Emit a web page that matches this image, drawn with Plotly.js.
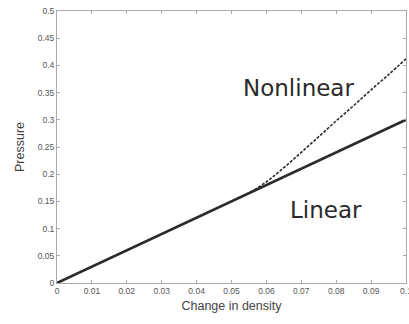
<!DOCTYPE html>
<html><head><meta charset="utf-8">
<script src="https://cdn.plot.ly/plotly-3.0.1.min.js"></script>
<style>html,body{margin:0;padding:0;background:#fff}#c{width:409px;height:324px}</style>
</head><body><div id="c"></div>
<script>
const linearX = [0, 0.1];
const linearY = [0, 0.3];
const nonlinearX = [0.052, 0.055, 0.06, 0.065, 0.07, 0.075, 0.08, 0.085, 0.09, 0.095, 0.1];
const nonlinearY = [0.156, 0.1655, 0.186, 0.212, 0.240, 0.269, 0.298, 0.326, 0.355, 0.383, 0.412];
const xTicks = [0, 0.01, 0.02, 0.03, 0.04, 0.05, 0.06, 0.07, 0.08, 0.09, 0.1];
const xTickText = ['0', '0.01', '0.02', '0.03', '0.04', '0.05', '0.06', '0.07', '0.08', '0.09', '0.1'];
const yTicks = [0, 0.05, 0.1, 0.15, 0.2, 0.25, 0.3, 0.35, 0.4, 0.45, 0.5];
const yTickText = ['0', '0.05', '0.1', '0.15', '0.2', '0.25', '0.3', '0.35', '0.4', '0.45', '0.5'];
const labels = [
  {text: 'Nonlinear', x: 0.0693, y: 0.358},
  {text: 'Linear', x: 0.0772, y: 0.135}
];

const traces = [
  {x: linearX, y: linearY, mode: 'lines', line: {color: '#2b2b2b', width: 2.6}, hoverinfo: 'skip'},
  {x: nonlinearX, y: nonlinearY, mode: 'lines', line: {color: '#2b2b2b', width: 1.6, dash: '3px,1.5px', shape: 'spline'}, hoverinfo: 'skip'}
];
const axisCommon = {
  showline: true, linecolor: '#aaaaaa', linewidth: 1, mirror: 'ticks',
  ticks: 'inside', ticklen: 3, tickcolor: '#aaaaaa', showgrid: false, zeroline: false,
  ticklabeloverflow: 'allow',
  tickfont: {family: 'Liberation Sans, Arial, sans-serif', size: 8.5, color: '#555'}
};
const layout = {
  width: 409, height: 324,
  margin: {l: 57, r: 3, t: 11, b: 41},
  paper_bgcolor: '#fff', plot_bgcolor: '#fff',
  showlegend: false,
  xaxis: Object.assign({}, axisCommon, {
    range: [0, 0.1], tickvals: xTicks, ticktext: xTickText,
    title: {text: 'Change in density', standoff: 6, font: {family: 'Liberation Sans, Arial, sans-serif', size: 12.5, color: '#444'}}
  }),
  yaxis: Object.assign({}, axisCommon, {
    range: [0, 0.5], tickvals: yTicks, ticktext: yTickText,
    title: {text: 'Pressure', standoff: 10, font: {family: 'Liberation Sans, Arial, sans-serif', size: 12.5, color: '#444'}}
  }),
  annotations: labels.map(l => ({
    text: l.text, x: l.x, y: l.y, xref: 'x', yref: 'y', showarrow: false,
    font: {family: 'DejaVu Sans, sans-serif', size: 23, color: '#2a2a2a'}
  }))
};
Plotly.newPlot('c', traces, layout, {staticPlot: true, displayModeBar: false});
</script></body></html>
